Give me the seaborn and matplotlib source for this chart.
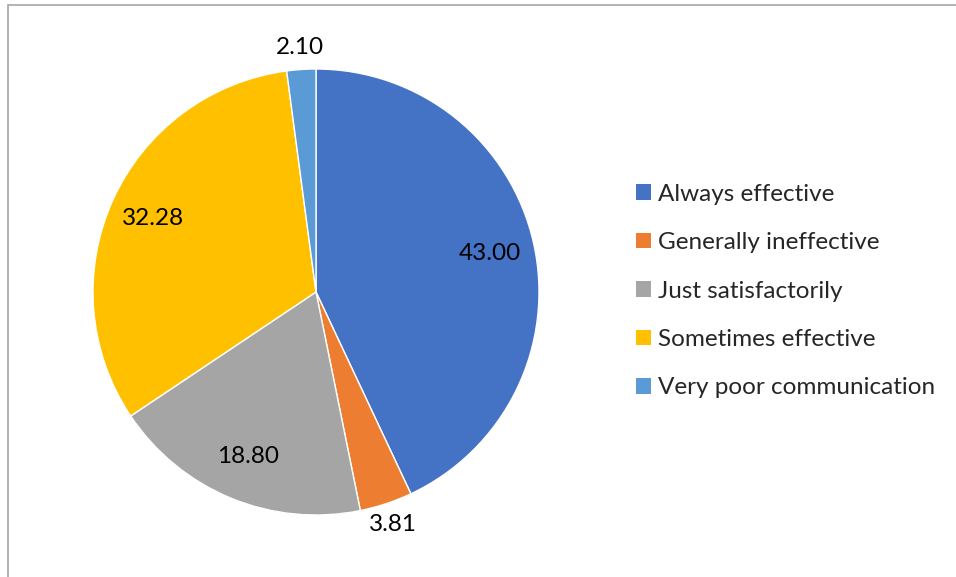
import matplotlib
matplotlib.use("Agg")
import matplotlib.pyplot as plt
import matplotlib.patches as mpatches
import numpy as np
import seaborn as sns

categories = ["Always effective", "Generally ineffective", "Just satisfactorily",
              "Sometimes effective", "Very poor communication"]
values = [43.00, 3.81, 18.80, 32.28, 2.10]
value_labels = ["43.00", "3.81", "18.80", "32.28", "2.10"]
colors = ["#4472C4", "#ED7D31", "#A5A5A5", "#FFC000", "#5B9BD5"]

sns.set_theme(style="white")
plt.rcParams['font.family'] = ['Lato', 'DejaVu Sans']

fig = plt.figure(figsize=(9.56, 5.77), dpi=100)
W, H = 956, 577
ax = fig.add_axes([93 / W, 1 - 515 / H, 446 / W, 446 / H])

wedges, _ = ax.pie(values, colors=colors, startangle=90, counterclock=False,
                   radius=1, wedgeprops=dict(linewidth=1, edgecolor="white"))
ax.set_xlim(-1, 1)
ax.set_ylim(-1, 1)
ax.set_aspect("auto")
ax.axis("off")

for w, v, lab in zip(wedges, values, value_labels):
    ang = np.deg2rad((w.theta1 + w.theta2) / 2)
    r = 1.1 if v < 5 else 0.8
    ax.text(r * np.cos(ang), r * np.sin(ang), lab, ha="center", va="center",
            fontsize=17.5, color="#000000")

handles = [mpatches.Patch(facecolor=c, edgecolor="none") for c in colors]
fig.legend(handles, categories, loc="center left",
           bbox_to_anchor=(636 / W, 1 - 291 / H), frameon=False,
           fontsize=17.5, handlelength=0.6, handleheight=0.6,
           handletextpad=0.3, labelspacing=1.13, borderpad=0, borderaxespad=0)

border = mpatches.Rectangle((7.5 / W, -0.1), 1.2, 1 - 4.5 / H + 0.1,
                            transform=fig.transFigure, fill=False,
                            edgecolor="#A6A6A6", linewidth=1.2)
fig.patches.append(border)

fig.savefig("out.png", dpi=100)
